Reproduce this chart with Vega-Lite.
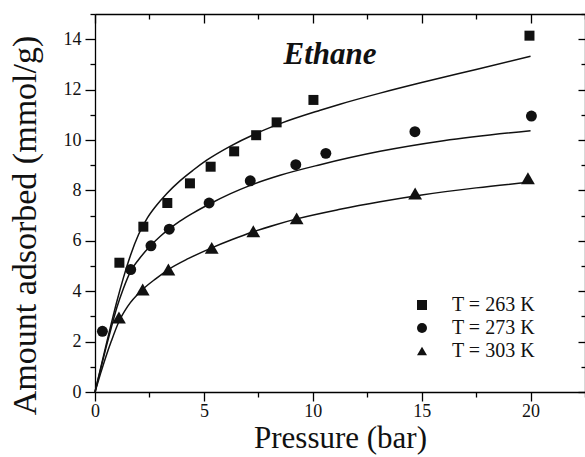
{
  "$schema": "https://vega.github.io/schema/vega-lite/v6.json",
  "autosize": {"type": "none"},
  "padding": {"left": 95, "top": 14, "right": 0, "bottom": 65},
  "width": 490,
  "height": 378,
  "background": "white",
  "title": {"text": "Ethane", "anchor": "middle", "orient": "top", "offset": -52, "dy": 38, "dx": -10, "baseline": "alphabetic", "font": "Liberation Serif", "fontSize": 31, "fontStyle": "italic", "fontWeight": "bold", "color": "#111"},
  "config": {
    "font": "Liberation Serif",
    "view": {"stroke": null},
    "axis": {"grid": false, "domainColor": "black", "tickColor": "black", "labelColor": "#111", "titleColor": "#111", "labelFont": "Liberation Serif", "titleFont": "Liberation Serif", "labelFontSize": 18, "titleFontSize": 31, "titleFontWeight": "normal", "domainWidth": 1.3, "tickWidth": 1.3},
    "legend": {"labelFont": "Liberation Serif", "labelFontSize": 20, "labelColor": "#111"}
  },
  "datasets": {
    "fits": [
      {"P": 0, "q": 0, "series": "T = 263 K"},
      {"P": 0.25, "q": 0.92, "series": "T = 263 K"},
      {"P": 0.5, "q": 1.83, "series": "T = 263 K"},
      {"P": 0.75, "q": 2.72, "series": "T = 263 K"},
      {"P": 1.0, "q": 3.58, "series": "T = 263 K"},
      {"P": 1.3, "q": 4.52, "series": "T = 263 K"},
      {"P": 1.64, "q": 5.45, "series": "T = 263 K"},
      {"P": 2.0, "q": 6.25, "series": "T = 263 K"},
      {"P": 2.4, "q": 6.9, "series": "T = 263 K"},
      {"P": 2.8, "q": 7.38, "series": "T = 263 K"},
      {"P": 3.3, "q": 7.88, "series": "T = 263 K"},
      {"P": 3.9, "q": 8.38, "series": "T = 263 K"},
      {"P": 4.5, "q": 8.8, "series": "T = 263 K"},
      {"P": 5.13, "q": 9.2, "series": "T = 263 K"},
      {"P": 6.2, "q": 9.75, "series": "T = 263 K"},
      {"P": 7.35, "q": 10.24, "series": "T = 263 K"},
      {"P": 8.5, "q": 10.65, "series": "T = 263 K"},
      {"P": 10.34, "q": 11.18, "series": "T = 263 K"},
      {"P": 11.25, "q": 11.42, "series": "T = 263 K"},
      {"P": 13.09, "q": 11.86, "series": "T = 263 K"},
      {"P": 15, "q": 12.28, "series": "T = 263 K"},
      {"P": 17.5, "q": 12.8, "series": "T = 263 K"},
      {"P": 20, "q": 13.32, "series": "T = 263 K"},
      {"P": 0, "q": 0, "series": "T = 273 K"},
      {"P": 0.25, "q": 0.88, "series": "T = 273 K"},
      {"P": 0.5, "q": 1.74, "series": "T = 273 K"},
      {"P": 0.75, "q": 2.56, "series": "T = 273 K"},
      {"P": 1.0, "q": 3.34, "series": "T = 273 K"},
      {"P": 1.3, "q": 4.1, "series": "T = 273 K"},
      {"P": 1.64, "q": 4.8, "series": "T = 273 K"},
      {"P": 2.0, "q": 5.25, "series": "T = 273 K"},
      {"P": 2.57, "q": 5.82, "series": "T = 273 K"},
      {"P": 3.0, "q": 6.18, "series": "T = 273 K"},
      {"P": 3.41, "q": 6.47, "series": "T = 273 K"},
      {"P": 3.9, "q": 6.78, "series": "T = 273 K"},
      {"P": 4.5, "q": 7.1, "series": "T = 273 K"},
      {"P": 5.24, "q": 7.45, "series": "T = 273 K"},
      {"P": 6.2, "q": 7.86, "series": "T = 273 K"},
      {"P": 7.13, "q": 8.2, "series": "T = 273 K"},
      {"P": 8.5, "q": 8.6, "series": "T = 273 K"},
      {"P": 10.34, "q": 9.02, "series": "T = 273 K"},
      {"P": 13.09, "q": 9.55, "series": "T = 273 K"},
      {"P": 16, "q": 9.97, "series": "T = 273 K"},
      {"P": 20, "q": 10.37, "series": "T = 273 K"},
      {"P": 0, "q": 0, "series": "T = 303 K"},
      {"P": 0.25, "q": 0.72, "series": "T = 303 K"},
      {"P": 0.5, "q": 1.4, "series": "T = 303 K"},
      {"P": 0.75, "q": 2.02, "series": "T = 303 K"},
      {"P": 1.1, "q": 2.8, "series": "T = 303 K"},
      {"P": 1.5, "q": 3.4, "series": "T = 303 K"},
      {"P": 2.19, "q": 4.07, "series": "T = 303 K"},
      {"P": 2.8, "q": 4.5, "series": "T = 303 K"},
      {"P": 3.37, "q": 4.86, "series": "T = 303 K"},
      {"P": 4.3, "q": 5.3, "series": "T = 303 K"},
      {"P": 5.36, "q": 5.72, "series": "T = 303 K"},
      {"P": 6.3, "q": 6.05, "series": "T = 303 K"},
      {"P": 7.27, "q": 6.36, "series": "T = 303 K"},
      {"P": 8.3, "q": 6.64, "series": "T = 303 K"},
      {"P": 9.26, "q": 6.87, "series": "T = 303 K"},
      {"P": 11.25, "q": 7.25, "series": "T = 303 K"},
      {"P": 13.09, "q": 7.55, "series": "T = 303 K"},
      {"P": 15, "q": 7.82, "series": "T = 303 K"},
      {"P": 17.5, "q": 8.1, "series": "T = 303 K"},
      {"P": 20, "q": 8.33, "series": "T = 303 K"}
    ],
    "points": [
      {"P": 1.12, "q": 5.13, "series": "T = 263 K"},
      {"P": 2.22, "q": 6.56, "series": "T = 263 K"},
      {"P": 3.32, "q": 7.5, "series": "T = 263 K"},
      {"P": 4.36, "q": 8.28, "series": "T = 263 K"},
      {"P": 5.31, "q": 8.94, "series": "T = 263 K"},
      {"P": 6.39, "q": 9.55, "series": "T = 263 K"},
      {"P": 7.4, "q": 10.19, "series": "T = 263 K"},
      {"P": 8.34, "q": 10.7, "series": "T = 263 K"},
      {"P": 10.03, "q": 11.59, "series": "T = 263 K"},
      {"P": 19.95, "q": 14.14, "series": "T = 263 K"},
      {"P": 0.34, "q": 2.41, "series": "T = 273 K"},
      {"P": 1.64, "q": 4.86, "series": "T = 273 K"},
      {"P": 2.57, "q": 5.8, "series": "T = 273 K"},
      {"P": 3.41, "q": 6.46, "series": "T = 273 K"},
      {"P": 5.24, "q": 7.5, "series": "T = 273 K"},
      {"P": 7.13, "q": 8.38, "series": "T = 273 K"},
      {"P": 9.22, "q": 9.02, "series": "T = 273 K"},
      {"P": 10.6, "q": 9.47, "series": "T = 273 K"},
      {"P": 14.69, "q": 10.33, "series": "T = 273 K"},
      {"P": 20.04, "q": 10.95, "series": "T = 273 K"},
      {"P": 1.1, "q": 2.96, "series": "T = 303 K"},
      {"P": 2.19, "q": 4.07, "series": "T = 303 K"},
      {"P": 3.37, "q": 4.86, "series": "T = 303 K"},
      {"P": 5.36, "q": 5.72, "series": "T = 303 K"},
      {"P": 7.27, "q": 6.38, "series": "T = 303 K"},
      {"P": 9.26, "q": 6.89, "series": "T = 303 K"},
      {"P": 14.7, "q": 7.88, "series": "T = 303 K"},
      {"P": 19.88, "q": 8.48, "series": "T = 303 K"}
    ]
  },
  "layer": [
    {
      "data": {"name": "fits"},
      "mark": {"type": "line", "color": "#111", "strokeWidth": 1.5, "interpolate": "monotone"},
      "encoding": {
        "x": {"field": "P", "type": "quantitative", "scale": {"domain": [0, 22.5], "nice": false, "zero": false},
          "axis": {"orient": "bottom", "title": "Pressure (bar)", "values": [0, 2.5, 5, 7.5, 10, 12.5, 15, 17.5, 20, 22.5],
            "labelExpr": "datum.value % 5 === 0 ? datum.label : ''",
            "tickSize": {"condition": {"test": "datum.value % 5 === 0", "value": 9}, "value": 5},
            "labelPadding": 1, "titlePadding": 3, "labelFlush": false, "labelOverlap": false}},
        "y": {"field": "q", "type": "quantitative", "scale": {"domain": [0, 15], "nice": false},
          "axis": {"orient": "left", "title": "Amount adsorbed (mmol/g)", "values": [0, 1, 2, 3, 4, 5, 6, 7, 8, 9, 10, 11, 12, 13, 14, 15],
            "labelExpr": "datum.value % 2 === 0 && datum.value < 15 ? datum.label : ''",
            "tickSize": {"condition": {"test": "datum.value % 2 === 0", "value": 10}, "value": 5},
            "labelPadding": 4, "titlePadding": 21, "titleFontSize": 34, "titleY": 211, "labelFlush": false, "labelOverlap": false}},
        "detail": {"field": "series"}
      }
    },
    {
      "data": {"name": "points"},
      "encoding": {
        "x": {"field": "P", "type": "quantitative",
          "axis": {"orient": "top", "title": null, "labels": false, "values": [0, 2.5, 5, 7.5, 10, 12.5, 15, 17.5, 20, 22.5],
            "tickSize": {"condition": {"test": "datum.value % 5 === 0", "value": -9}, "value": -5}}},
        "y": {"field": "q", "type": "quantitative",
          "axis": {"orient": "right", "title": null, "labels": false, "values": [0, 1, 2, 3, 4, 5, 6, 7, 8, 9, 10, 11, 12, 13, 14, 15],
            "tickSize": {"condition": {"test": "datum.value % 2 === 0", "value": -7}, "value": -4}}},
        "shape": {"field": "series", "type": "nominal",
          "scale": {"domain": ["T = 263 K", "T = 273 K", "T = 303 K"], "range": ["square", "circle", "triangle-up"]},
          "legend": {"title": null, "orient": "none", "legendX": 317, "legendY": 281, "padding": 0, "labelFont": "Liberation Serif", "labelFontSize": 20, "labelColor": "#111", "symbolFillColor": "#111", "symbolStrokeColor": "#111", "symbolSize": 100, "labelOffset": 20, "rowPadding": 3,
            "encode": {"symbols": {"update": {"size": {"signal": "datum.value === 'T = 303 K' ? 160 : (datum.value === 'T = 273 K' ? 110 : 95)"}}}}}}
      },
      "layer": [
        {"transform": [{"filter": "datum.series === 'T = 263 K'"}], "mark": {"type": "point", "filled": true, "color": "#111", "opacity": 1, "size": 100}},
        {"transform": [{"filter": "datum.series === 'T = 273 K'"}], "mark": {"type": "point", "filled": true, "color": "#111", "opacity": 1, "size": 120}},
        {"transform": [{"filter": "datum.series === 'T = 303 K'"}], "mark": {"type": "point", "filled": true, "color": "#111", "opacity": 1, "size": 190}}
      ]
    }
  ],
  "resolve": {"axis": {"x": "independent", "y": "independent"}}
}
